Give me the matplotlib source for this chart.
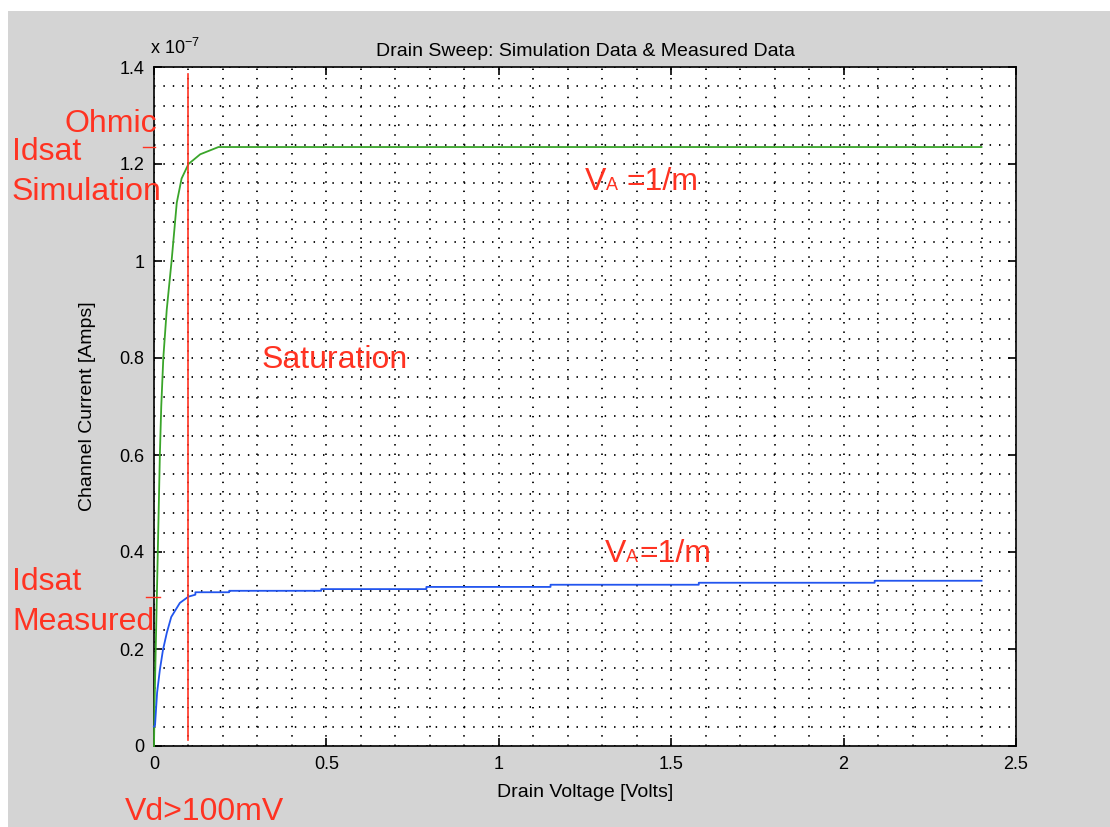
import matplotlib
matplotlib.use("Agg")
import matplotlib.pyplot as plt
from matplotlib.patches import Rectangle
from matplotlib.ticker import FuncFormatter, MultipleLocator

# Drain sweep data, current in units of 1e-7 A
sim_vd = [0.0, 0.002, 0.005, 0.008, 0.011, 0.014, 0.017, 0.021, 0.027, 0.037,
          0.051, 0.066, 0.08, 0.1, 0.134, 0.187, 2.4]
sim_id = [0.0, 0.1, 0.2, 0.3, 0.4, 0.5, 0.6, 0.7, 0.8, 0.9,
          1.0, 1.12, 1.17, 1.2, 1.22, 1.235, 1.235]

meas_vd = [0.0, 0.003, 0.009, 0.017, 0.026, 0.037, 0.05, 0.075, 0.1, 0.12,
           0.12, 0.218, 0.218, 0.485, 0.485, 0.79, 0.79, 1.15, 1.15,
           1.58, 1.58, 2.09, 2.09, 2.4]
meas_id = [0.04, 0.043, 0.11, 0.157, 0.198, 0.233, 0.266, 0.295, 0.308, 0.312,
           0.317, 0.317, 0.320, 0.320, 0.3235, 0.3235, 0.328, 0.328, 0.3325,
           0.3325, 0.3366, 0.3366, 0.3407, 0.3407]

vd_sat = 0.1          # saturation boundary (Vd > 100 mV)
idsat_sim = 1.235
idsat_meas = 0.308

x_ticks = [0, 0.5, 1, 1.5, 2, 2.5]
y_ticks = [0, 0.2, 0.4, 0.6, 0.8, 1.0, 1.2, 1.4]

W, H = 1110, 827
RED = "#ff3322"
GREEN = "#3aa52a"
BLUE = "#2255ee"
plt.rcParams["font.family"] = ["Liberation Sans", "DejaVu Sans"]
plt.rcParams["mathtext.default"] = "regular"

fig = plt.figure(figsize=(W / 100, H / 100), dpi=100, facecolor="#d4d4d4")
# white margins along the top and left edge
fig.patches.append(Rectangle((0, 1 - 11 / H), 1, 11 / H, transform=fig.transFigure,
                             facecolor="white", edgecolor="none", zorder=0))
fig.patches.append(Rectangle((0, 0), 8 / W, 1, transform=fig.transFigure,
                             facecolor="white", edgecolor="none", zorder=0))

ax = fig.add_axes([154 / W, 1 - 746 / H, (1016 - 154) / W, (746 - 67) / H])
ax.set_facecolor("white")

ax.plot(sim_vd, sim_id, color=GREEN, lw=1.3, zorder=3, clip_on=False)
ax.plot(meas_vd, meas_id, color=BLUE, lw=1.3, zorder=3, clip_on=False)
ax.plot([vd_sat, vd_sat], [0.012, 1.385], color=RED, lw=1.2, zorder=3)
ax.plot([-0.032, 0.004], [idsat_sim, idsat_sim], color=RED, lw=1.0, clip_on=False, zorder=4)
ax.plot([-0.022, 0.017], [idsat_meas, idsat_meas], color=RED, lw=1.0, clip_on=False, zorder=4)

ax.set_xlim(0, 2.5)
ax.set_ylim(0, 1.4)
ax.set_xticks(x_ticks)
ax.set_yticks(y_ticks)
fmt = FuncFormatter(lambda v, p: ("%g" % round(v, 3)))
ax.xaxis.set_major_formatter(fmt)
ax.yaxis.set_major_formatter(fmt)
ax.xaxis.set_minor_locator(MultipleLocator(0.1))
ax.yaxis.set_minor_locator(MultipleLocator(0.04))
ax.tick_params(which="major", direction="in", length=6, width=1.2, labelsize=13,
               top=True, right=True, pad=7)
ax.tick_params(which="minor", length=0)
for s in ax.spines.values():
    s.set_linewidth(1.2)
ax.grid(which="both", color="black", linestyle=(0, (0.8, 4.4)), linewidth=1.3)

ax.set_xlabel("Drain Voltage [Volts]", fontsize=14, labelpad=8)
ax.set_ylabel("Channel Current [Amps]", fontsize=14, labelpad=17)
ax.set_title("Drain Sweep: Simulation Data & Measured Data", fontsize=14, pad=8)
fig.text(150 / W, 1 - 54 / H, "x 10$^{-7}$", fontsize=13, va="baseline", ha="left")


def ftext(x, y, s, size=23, **kw):
    return fig.text(x / W, 1 - y / H, s, fontsize=size, color=RED,
                    va="baseline", ha="left", **kw)


ftext(65, 132, "Ohmic")
ftext(12, 160, "Idsat")
ftext(12, 200, "Simulation")
ftext(12, 590, "Idsat")
ftext(12, 630, "Measured")
ftext(125, 820, "Vd>100mV")
ftext(262, 368, "Saturation")


def va_label(x, y, gap):
    renderer = fig.canvas.get_renderer()
    t1 = ftext(x, y, "V")
    b1 = t1.get_window_extent(renderer)
    t2 = fig.text(b1.x1 / W, 1 - y / H, "A", fontsize=13, color=RED,
                  va="baseline", ha="left")
    b2 = t2.get_window_extent(renderer)
    fig.text((b2.x1 + gap) / W, 1 - y / H, "=1/m", fontsize=23, color=RED,
             va="baseline", ha="left")


fig.canvas.draw()
va_label(585, 190, 8)
va_label(605, 562, 1)

fig.savefig("out.png", dpi=100, facecolor=fig.get_facecolor())
